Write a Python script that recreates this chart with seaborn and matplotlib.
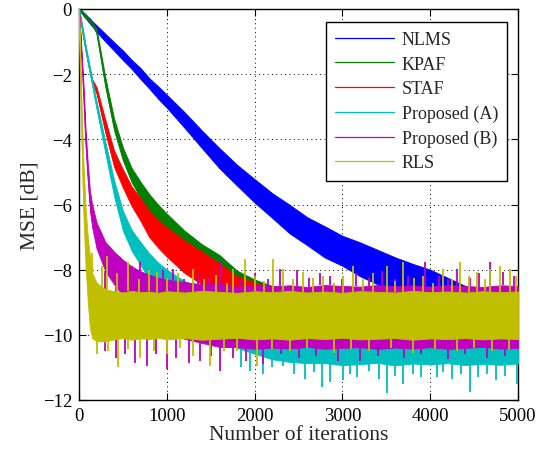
import numpy as np
import pandas as pd
import matplotlib
matplotlib.use("Agg")
import matplotlib.pyplot as plt
import seaborn as sns
from matplotlib.lines import Line2D

# ---------------- data ----------------
iters = [0, 25, 50, 75, 100, 125, 150, 200, 300, 400, 500, 600, 700, 800, 900, 1000,
         1200, 1400, 1600, 1800, 2000, 2200, 2400, 2600, 2800, 3000, 3200, 3400, 3600,
         3800, 4000, 4200, 4400, 4600, 4800, 5000]

nlms_mid = [0, -0.07, -0.15, -0.22, -0.3, -0.37, -0.45, -0.6, -0.88, -1.15, -1.42, -1.7, -1.98,
            -2.28, -2.56, -2.83, -3.4, -4.0, -4.58, -5.1, -5.58, -6.03, -6.45, -6.82, -7.15,
            -7.42, -7.68, -7.92, -8.12, -8.32, -8.5, -8.75, -9.0, -9.2, -9.35, -9.45]
nlms_spr = [0, 0.04, 0.05, 0.06, 0.07, 0.08, 0.08, 0.1, 0.12, 0.13, 0.15, 0.14, 0.17, 0.16,
            0.19, 0.2, 0.24, 0.27, 0.31, 0.32, 0.36, 0.38, 0.44, 0.43, 0.48, 0.46, 0.52, 0.53,
            0.5, 0.5, 0.5, 0.5, 0.5, 0.5, 0.5, 0.5]

kpaf_mid = [0, -0.07, -0.15, -0.22, -0.3, -0.37, -0.45, -0.68, -2.25, -3.55, -4.45, -5.1, -5.55,
            -5.95, -6.3, -6.6, -7.15, -7.6, -7.95, -8.45, -8.75, -9.0, -9.15, -9.3, -9.45,
            -9.55, -9.65, -9.7, -9.75, -9.8, -9.85, -9.85, -9.85, -9.85, -9.85, -9.85]
kpaf_spr = [0, 0.04, 0.05, 0.05, 0.05, 0.05, 0.05, 0.07, 0.15, 0.18, 0.2, 0.22, 0.25, 0.27,
            0.3, 0.32, 0.35, 0.38, 0.4, 0.42, 0.45, 0.5, 0.55, 0.6, 0.65, 0.7, 0.75, 0.8,
            0.85, 0.9, 0.95, 0.95, 0.95, 0.95, 0.95, 0.95]

staf_mid = [0, -0.4, -0.8, -1.2, -1.55, -1.9, -2.2, -2.5, -3.6, -4.6, -5.2, -5.75, -6.15,
            -6.6, -6.9, -7.15, -7.6, -7.95, -8.3, -8.7, -8.95, -9.15, -9.3, -9.45, -9.55,
            -9.65, -9.7, -9.75, -9.8, -9.85, -9.85, -9.85, -9.85, -9.85, -9.85, -9.85]
staf_spr = [0, 0.05, 0.05, 0.05, 0.05, 0.05, 0.05, 0.1, 0.2, 0.25, 0.28, 0.3, 0.35, 0.4,
            0.42, 0.45, 0.5, 0.5, 0.5, 0.5, 0.55, 0.6, 0.65, 0.7, 0.75, 0.8, 0.85, 0.85,
            0.9, 0.95, 0.95, 0.95, 0.95, 0.95, 0.95, 0.95]

propa_mid = [0, -0.4, -0.8, -1.2, -1.55, -1.9, -2.25, -2.95, -4.25, -5.5, -6.5, -7.1, -7.5,
             -7.9, -8.2, -8.45, -8.85, -9.15, -9.4, -9.6, -9.7, -9.8, -9.85, -9.85, -9.9,
             -9.9, -9.9, -9.9, -9.9, -9.9, -9.9, -9.9, -9.9, -9.9, -9.9, -9.9]
propa_spr = [0, 0.06, 0.08, 0.1, 0.1, 0.1, 0.1, 0.12, 0.18, 0.25, 0.3, 0.32, 0.35, 0.4,
             0.42, 0.45, 0.5, 0.6, 0.7, 0.8, 0.88, 0.95, 0.98, 1.02, 0.97, 1.03, 1.0, 0.96,
             1.04, 0.98, 1.01, 0.97, 1.03, 0.99, 1.02, 0.98]

propb_mid = [0, -1.2, -2.4, -3.9, -5.0, -5.9, -6.35, -6.95, -7.6, -7.95, -8.25, -8.5, -8.7,
             -8.85, -9.0, -9.1, -9.25, -9.35, -9.4, -9.45, -9.45, -9.45, -9.45, -9.45, -9.45,
             -9.45, -9.45, -9.45, -9.45, -9.45, -9.45, -9.45, -9.45, -9.45, -9.45, -9.45]
propb_spr = [0, 0.1, 0.15, 0.2, 0.25, 0.3, 0.35, 0.4, 0.45, 0.5, 0.55, 0.6, 0.65, 0.7, 0.75,
             0.8, 0.87, 0.9, 0.97, 0.93, 0.98, 0.94, 0.97, 0.92, 0.98, 0.95, 0.93, 0.98,
             0.94, 0.97, 0.93, 0.98, 0.95, 0.92, 0.97, 0.95]

rls_mid = [0, -3.0, -5.5, -7.0, -8.0, -8.7, -9.1, -9.3, -9.4, -9.4, -9.4, -9.4, -9.4,
           -9.4, -9.4, -9.4, -9.4, -9.4, -9.4, -9.4, -9.4, -9.4, -9.4, -9.4, -9.4, -9.4,
           -9.4, -9.4, -9.4, -9.4, -9.4, -9.4, -9.4, -9.4, -9.4, -9.4]
rls_spr = [0, 0.5, 0.8, 0.9, 1.0, 1.1, 1.0, 0.9, 0.8, 0.74, 0.7, 0.75, 0.71, 0.73, 0.69,
           0.74, 0.7, 0.75, 0.72, 0.69, 0.74, 0.71, 0.75, 0.7, 0.73, 0.69, 0.74, 0.72,
           0.7, 0.75, 0.71, 0.73, 0.7, 0.74, 0.71, 0.73]

# isolated noise spikes: (iteration, MSE dB)
rls_up = [(150, -7.5), (260, -7.9), (315, -7.57), (430, -8.1), (560, -7.77), (680, -8.3),
          (800, -8.0), (885, -8.07), (1000, -8.25), (1130, -8.1), (1300, -7.98),
          (1420, -8.3), (1560, -8.15), (1680, -8.4), (1756, -7.98), (1890, -7.67),
          (2000, -8.2), (2110, -8.35), (2213, -7.67), (2327, -7.98), (2440, -8.3),
          (2555, -8.07), (2670, -8.25), (2783, -8.2), (2900, -8.4), (3010, -8.2),
          (3124, -7.88), (3240, -8.3), (3352, -8.1), (3504, -7.88), (3600, -8.35),
          (3694, -7.77), (3810, -8.25), (3922, -8.2), (4030, -8.4), (4149, -7.98),
          (4250, -8.3), (4339, -7.77), (4440, -8.2), (4529, -8.07), (4620, -8.3),
          (4681, -7.98), (4795, -7.88), (4909, -7.98), (4980, -8.2)]
rls_dn = [(200, -10.6), (330, -10.5), (444, -10.99), (560, -10.45), (700, -10.7),
          (850, -10.5), (1000, -10.6), (1150, -10.4), (1300, -10.65), (1492, -10.95),
          (1650, -10.5), (1800, -10.5), (2024, -10.95), (2200, -10.45), (2400, -10.5),
          (2600, -10.4), (2900, -10.55), (3100, -10.45), (3300, -10.5), (3550, -10.4),
          (3800, -10.55), (4050, -10.45), (4300, -10.5), (4500, -10.4), (4700, -10.5),
          (4900, -10.45)]
propb_up = [(240, -7.47), (353, -7.57), (470, -7.9), (600, -8.1), (695, -7.77), (850, -8.2),
            (960, -8.0), (1075, -7.98), (1200, -8.3), (1350, -8.1), (1480, -8.25),
            (1606, -7.78), (1750, -8.2), (1850, -8.3), (2000, -8.1), (2150, -8.3),
            (2289, -7.98), (2479, -8.0), (2620, -8.25), (2750, -8.1), (2859, -8.18),
            (3000, -8.3), (3150, -8.1), (3300, -8.25), (3450, -8.05), (3600, -8.3),
            (3750, -8.2), (3941, -7.75), (4100, -8.2), (4200, -8.3), (4302, -7.98),
            (4450, -8.25), (4560, -8.1), (4681, -7.77), (4833, -8.07), (4950, -8.2)]
propb_dn = [(300, -10.5), (420, -10.7), (520, -10.6), (640, -10.85), (770, -10.95),
            (880, -10.6), (998, -11.05), (1100, -10.7), (1250, -10.85), (1378, -10.8),
            (1500, -10.65), (1606, -11.1), (1750, -10.7), (1900, -10.8), (2100, -10.9),
            (2300, -10.6), (2500, -10.7), (2700, -10.65), (2950, -10.8), (3200, -10.8),
            (3400, -10.65), (3700, -10.7), (3900, -10.6), (4200, -10.75), (4400, -10.6),
            (4650, -10.7), (4850, -10.65)]
propa_dn = [(1850, -11.0), (1950, -11.1), (2100, -11.2), (2200, -11.0), (2327, -10.95),
            (2450, -11.2), (2574, -11.36), (2680, -11.15), (2764, -11.6), (2859, -11.46),
            (3010, -11.4), (3090, -11.2), (3163, -11.3), (3300, -11.1), (3420, -11.35),
            (3504, -11.8), (3600, -11.25), (3694, -11.5), (3800, -11.2), (3900, -11.3),
            (4074, -11.3), (4150, -11.15), (4250, -11.35), (4350, -11.2), (4453, -11.75),
            (4550, -11.3), (4650, -11.2), (4750, -11.4), (4850, -11.25), (4985, -11.5)]

labels = ["NLMS", "KPAF", "STAF", "Proposed (A)", "Proposed (B)", "RLS"]
colors = ["#0000ff", "#008000", "#ff0000", "#00bfbf", "#bf00bf", "#bfbf00"]
x_ticks = [0, 1000, 2000, 3000, 4000, 5000]
y_ticks = [-12, -10, -8, -6, -4, -2, 0]

# ---------------- figure ----------------
sns.set_style("ticks")
plt.rcParams["font.family"] = ["Liberation Serif", "DejaVu Serif"]

fig = plt.figure(figsize=(5.51, 4.52), dpi=100)
ax = fig.add_axes([79 / 551, 1 - 401 / 452, 439 / 551, 391 / 452])

mids = [nlms_mid, kpaf_mid, staf_mid, propa_mid, propb_mid, rls_mid]
sprs = [nlms_spr, kpaf_spr, staf_spr, propa_spr, propb_spr, rls_spr]
spikes = {
    3: [(propa_dn, "lo")],
    4: [(propb_up, "hi"), (propb_dn, "lo")],
    5: [(rls_up, "hi"), (rls_dn, "lo")],
}

x = np.array(iters, dtype=float)
for i, (lab, col, m, s) in enumerate(zip(labels, colors, mids, sprs)):
    m = np.array(m)
    s = np.array(s)
    lo, hi = m - s, m + s
    z = 2 + i
    ax.fill_between(x, lo, hi, color=col, lw=0.6, edgecolor=col, zorder=z)
    df = pd.DataFrame({"it": x, "mse": m})
    sns.lineplot(data=df, x="it", y="mse", color=col, lw=0.8, ax=ax,
                 estimator=None, sort=False, legend=False)
    ax.lines[-1].set_zorder(z)
    for pairs, side in spikes.get(i, []):
        sp_it = np.array([p[0] for p in pairs], dtype=float)
        sp_val = np.array([p[1] for p in pairs])
        base = np.interp(sp_it, x, lo if side == "lo" else hi)
        ax.vlines(sp_it, base, sp_val, color=col, lw=1.3, zorder=z)

ax.set_xlim(0, 5000)
ax.set_ylim(-12, 0)
ax.set_xticks(x_ticks)
ax.set_yticks(y_ticks)
ax.grid(True, linestyle=(0, (1, 3.5)), color="black", lw=0.7)
ax.set_axisbelow(True)
ax.tick_params(direction="in", top=True, right=True, length=5, width=0.8,
               labelsize=13.5, pad=5, colors="black")
for sp in ax.spines.values():
    sp.set_color("black")
    sp.set_linewidth(1.0)
ax.set_xlabel("Number of iterations", fontsize=15.5, labelpad=1)
ax.set_ylabel("MSE [dB]", fontsize=15.5, labelpad=2)

handles = [Line2D([0], [0], color=c, lw=0.9) for c in colors]
leg = ax.legend(handles, labels, loc="upper right", bbox_to_anchor=(0.975, 0.967),
                borderaxespad=0, fontsize=13, frameon=True, fancybox=False,
                framealpha=1, edgecolor="black", handlelength=3.3, handletextpad=0.4,
                labelspacing=0.42, borderpad=0.5)
leg.get_frame().set_linewidth(1.0)
leg.set_zorder(20)

fig.savefig("out.png", dpi=100)
